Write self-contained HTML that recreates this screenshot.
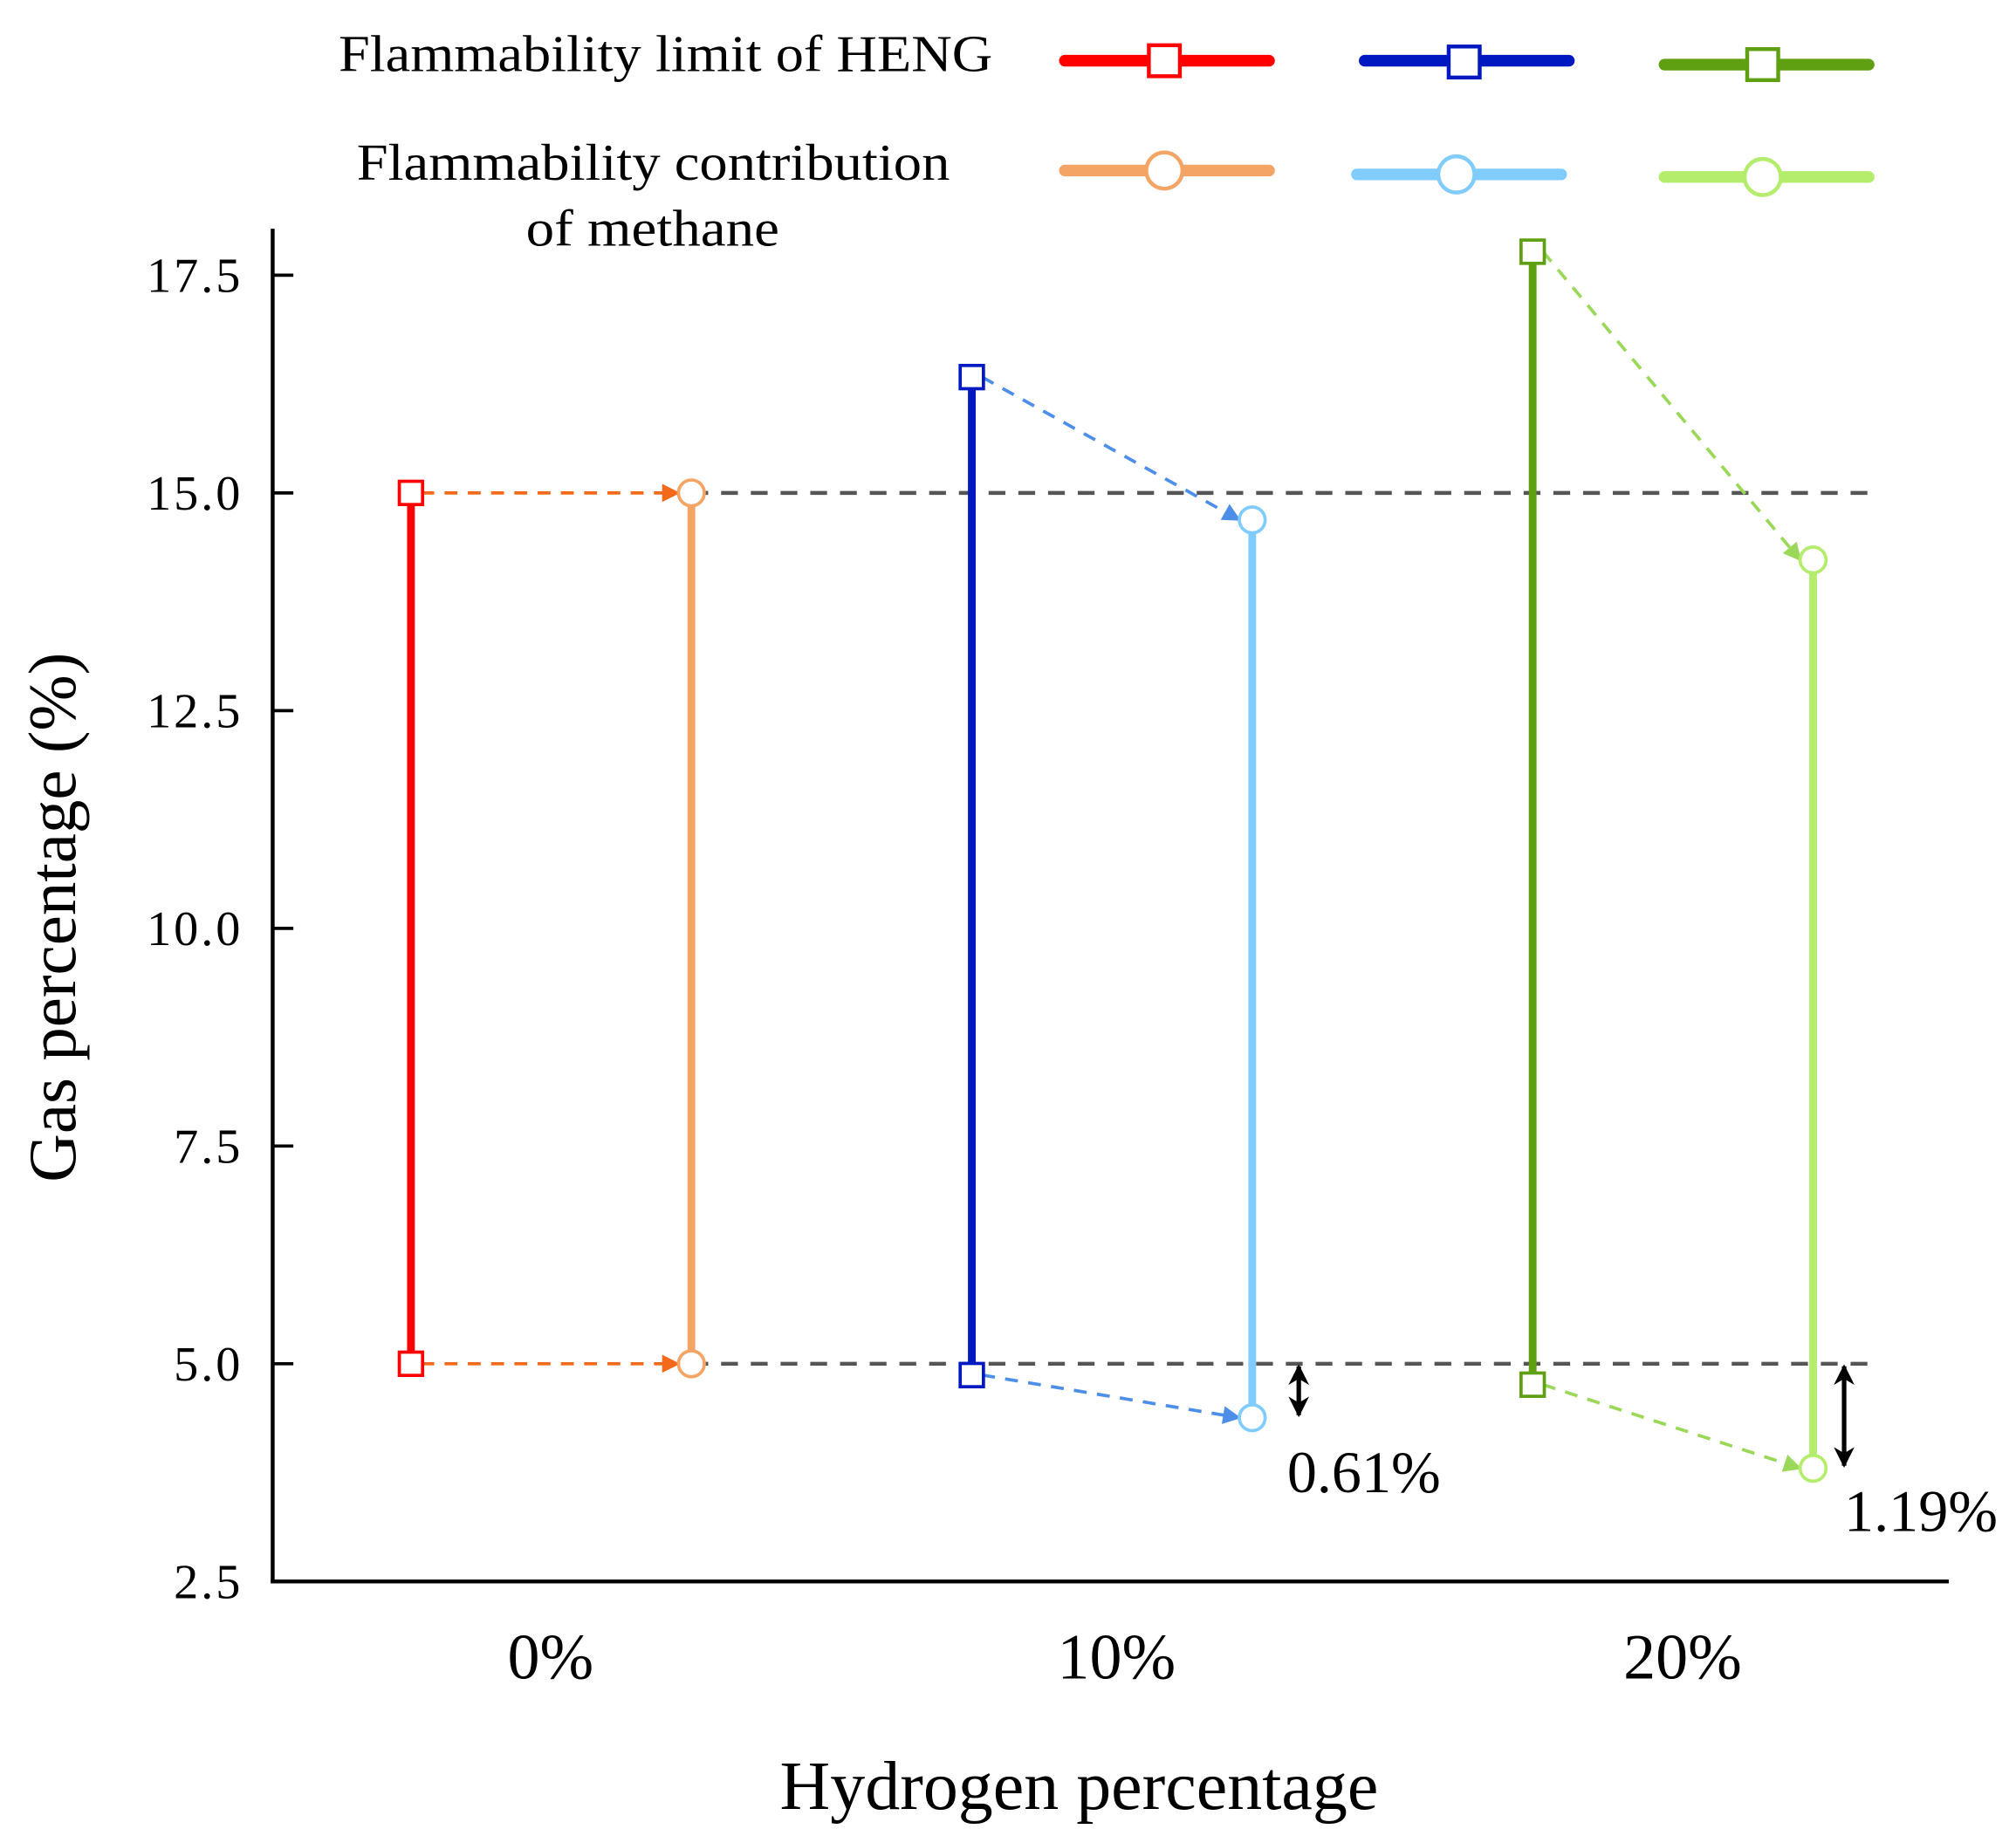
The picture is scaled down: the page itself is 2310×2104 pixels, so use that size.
<!DOCTYPE html>
<html><head><meta charset="utf-8"><style>html,body{margin:0;padding:0;background:#fff}svg{display:block}</style></head>
<body>
<svg id="chart" width="2310" height="2104" viewBox="0 0 1560 1421" preserveAspectRatio="none" xmlns="http://www.w3.org/2000/svg" font-family="'Liberation Serif', serif">
<defs>
<marker id="arrO" viewBox="0 0 10 10" refX="9" refY="5" markerWidth="24" markerHeight="14" orient="auto" markerUnits="userSpaceOnUse"><path d="M0,0L10,5L0,10z" fill="#f46a1a"/></marker>
<marker id="arrB" viewBox="0 0 10 10" refX="9" refY="5" markerWidth="24" markerHeight="14" orient="auto" markerUnits="userSpaceOnUse"><path d="M0,0L10,5L0,10z" fill="#4d8ee8"/></marker>
<marker id="arrG" viewBox="0 0 10 10" refX="9" refY="5" markerWidth="24" markerHeight="14" orient="auto" markerUnits="userSpaceOnUse"><path d="M0,0L10,5L0,10z" fill="#9bd85a"/></marker>
<marker id="arrK" viewBox="0 0 10 10" refX="9" refY="5" markerWidth="16" markerHeight="16" orient="auto-start-reverse" markerUnits="userSpaceOnUse"><path d="M0,0L10,5L0,10L3,5z" fill="#000"/></marker>
</defs>
<g id="plot"></g>
</svg>
<script>
const categories = ["0%", "10%", "20%"];
const hengLower = [5.0, 4.87, 4.76];
const hengUpper = [15.0, 16.33, 17.77];
const methLower = [5.0, 4.38, 3.80];
const methUpper = [15.0, 14.69, 14.23];
const yTicks = [2.5, 5.0, 7.5, 10.0, 12.5, 15.0, 17.5];
const refLines = [5.0, 15.0];
const diffLabels = ["", "0.61%", "1.19%"];

const NS = "http://www.w3.org/2000/svg";
const g = document.getElementById("plot");
const X0 = 211, Y0 = 1224, XR = 1508;
function y(v){ return Y0 - (v - 2.5) * 67.4; }
function xH(i){ return 318 + i * 434; }
function xM(i){ return 535 + i * 434; }
function xC(i){ return 426 + i * 438; }
function el(tag, attrs, parent){
  const e = document.createElementNS(NS, tag);
  for (const k in attrs) e.setAttribute(k, attrs[k]);
  (parent || g).appendChild(e);
  return e;
}
const hengCol = ["#ff0000", "#0018c0", "#5fa012"];
const methCol = ["#f4a464", "#80ccff", "#b4ec6c"];
const dashCol = ["#f46a1a", "#4d8ee8", "#9bd85a"];
const arrId = ["arrO", "arrB", "arrG"];

refLines.forEach((v) => {
  const l = el("line", {x1: 535, x2: 1452, y1: y(v), y2: y(v), stroke: "#555", "stroke-width": 3, "stroke-dasharray": "13 10"});
  
  
});

let ax = el("line", {x1: X0, x2: X0, y1: 177, y2: Y0 + 1.5, stroke: "#000", "stroke-width": 3});


ax = el("line", {x1: X0 - 1.5, x2: XR, y1: Y0, y2: Y0, stroke: "#000", "stroke-width": 3});



yTicks.forEach((v) => {
  const t = el("line", {x1: X0, x2: X0 + 16, y1: y(v), y2: y(v), stroke: "#000", "stroke-width": 2.5});
  
  
  const tx = el("text", {x: 188, y: y(v) + 13, "text-anchor": "end", "font-size": 38, fill: "#000", "letter-spacing": 2});
  tx.textContent = v.toFixed(1);
  
  
});

categories.forEach((c, i) => {
  const t = el("text", {x: xC(i), y: 1299, "text-anchor": "middle", "font-size": 50, fill: "#000"});
  t.textContent = c;
  
  
});

categories.forEach((c, i) => {
  [[hengUpper[i], methUpper[i]], [hengLower[i], methLower[i]]].forEach(([a, b]) => {
    const d = el("line", {x1: xH(i) + 8, y1: y(a), x2: xM(i) - 10, y2: y(b), stroke: dashCol[i], "stroke-width": 2.5, "stroke-dasharray": "10 8", "marker-end": "url(#" + arrId[i] + ")"});
    
    
  });
  const h = el("line", {x1: xH(i), x2: xH(i), y1: y(hengUpper[i]), y2: y(hengLower[i]), stroke: hengCol[i], "stroke-width": 6});
  
  
  [hengUpper[i], hengLower[i]].forEach((v) => {
    const s = el("rect", {x: xH(i) - 9, y: y(v) - 9, width: 18, height: 18, fill: "#fff", stroke: hengCol[i], "stroke-width": 2.5});
    
    
  });
  const m = el("line", {x1: xM(i), x2: xM(i), y1: y(methUpper[i]), y2: y(methLower[i]), stroke: methCol[i], "stroke-width": 6});
  
  
  [methUpper[i], methLower[i]].forEach((v) => {
    const s = el("circle", {cx: xM(i), cy: y(v), r: 10, fill: "#fff", stroke: methCol[i], "stroke-width": 2.5});
    
    
  });
  if (diffLabels[i]) {
    const ax2 = xM(i) + (i === 1 ? 36 : 24);
    const a = el("line", {x1: ax2, x2: ax2, y1: y(5.0) + 2, y2: y(methLower[i]) - 2, stroke: "#000", "stroke-width": 3.5, "marker-end": "url(#arrK)", "marker-start": "url(#arrK)"});
    
    
    const t = el("text", {x: i === 1 ? 996 : 1427, y: i === 1 ? 1155 : 1185, "font-size": 46, fill: "#000"});
    t.textContent = diffLabels[i];
    
    
  }
});
</script>
<svg style="position:absolute;left:0;top:0" width="2310" height="2104" viewBox="0 0 1560 1421" preserveAspectRatio="none" xmlns="http://www.w3.org/2000/svg" font-family="'Liberation Serif', serif">
<text transform="translate(58,710) rotate(-90)" text-anchor="middle" font-size="52" fill="#000">Gas percentage (%)</text>
<text x="835" y="1400" text-anchor="middle" font-size="54" fill="#000">Hydrogen percentage</text>
<g>
<text x="262" y="55" font-size="40" textLength="506" lengthAdjust="spacingAndGlyphs" fill="#000">Flammability limit of HENG</text>
<text x="276" y="139" font-size="40" textLength="459" lengthAdjust="spacingAndGlyphs" fill="#000">Flammability contribution</text>
<text x="505" y="190" text-anchor="middle" font-size="40" textLength="196" lengthAdjust="spacingAndGlyphs" fill="#000">of methane</text>
<g><line x1="824" x2="982" y1="47" y2="47" stroke="#ff0000" stroke-width="9" stroke-linecap="round"/><rect x="889" y="35" width="24" height="24" fill="#fff" stroke="#ff0000" stroke-width="3"/></g>
<g><line x1="1056" x2="1214" y1="47" y2="47" stroke="#0018c0" stroke-width="9" stroke-linecap="round"/><rect x="1121" y="36" width="24" height="24" fill="#fff" stroke="#0018c0" stroke-width="3"/></g>
<g><line x1="1288" x2="1446" y1="50" y2="50" stroke="#5fa012" stroke-width="9" stroke-linecap="round"/><rect x="1352" y="38" width="24" height="24" fill="#fff" stroke="#5fa012" stroke-width="3"/></g>
<g><line x1="824" x2="982" y1="132" y2="132" stroke="#f4a464" stroke-width="9" stroke-linecap="round"/><circle cx="901" cy="132" r="14" fill="#fff" stroke="#f4a464" stroke-width="3"/></g>
<g><line x1="1050" x2="1208" y1="135" y2="135" stroke="#80ccff" stroke-width="9" stroke-linecap="round"/><circle cx="1127" cy="135" r="14" fill="#fff" stroke="#80ccff" stroke-width="3"/></g>
<g><line x1="1288" x2="1446" y1="137" y2="137" stroke="#b4ec6c" stroke-width="9" stroke-linecap="round"/><circle cx="1364" cy="137" r="14" fill="#fff" stroke="#b4ec6c" stroke-width="3"/></g>
</g>
</svg>
</body></html>
